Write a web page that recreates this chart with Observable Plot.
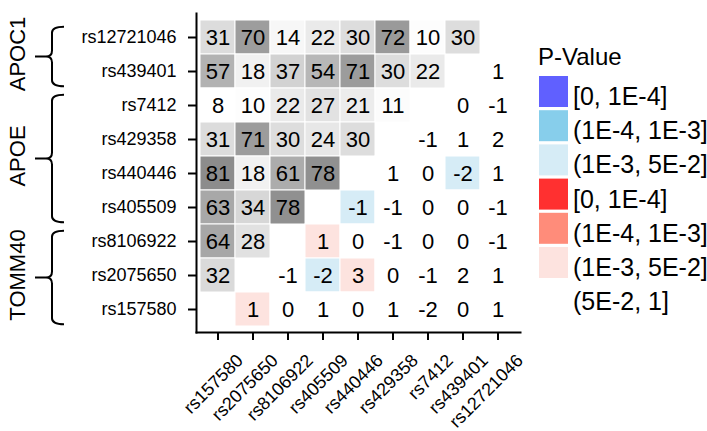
<!DOCTYPE html>
<html>
<head>
<meta charset="utf-8">
<script src="https://cdn.jsdelivr.net/npm/d3@7"></script>
<script src="https://cdn.jsdelivr.net/npm/@observablehq/plot@0.6"></script>
<style>
  html, body { margin: 0; padding: 0; background: #ffffff; }
  #chart { width: 707px; height: 431px; }
</style>
</head>
<body>
<div id="chart"></div>
<script>
// SNP order (rows top to bottom, columns left to right)
const rowSnps = ["rs12721046","rs439401","rs7412","rs429358","rs440446","rs405509","rs8106922","rs2075650","rs157580"];
const colSnps = ["rs157580","rs2075650","rs8106922","rs405509","rs440446","rs429358","rs7412","rs439401","rs12721046"];

// Cell values (row by row, null = diagonal)
const values = [
  [31, 70, 14, 22, 30, 72, 10, 30, null],
  [57, 18, 37, 54, 71, 30, 22, null, 1],
  [8, 10, 22, 27, 21, 11, null, 0, -1],
  [31, 71, 30, 24, 30, null, -1, 1, 2],
  [81, 18, 61, 78, null, 1, 0, -2, 1],
  [63, 34, 78, null, -1, -1, 0, 0, -1],
  [64, 28, null, 1, 0, -1, 0, 0, -1],
  [32, null, -1, -2, 3, 0, -1, 2, 1],
  [null, 1, 0, 1, 0, 1, -2, 0, 1]
];

// Significant cells in the lower triangle: [row SNP, column SNP, p-value bin]
const sigCells = [
  ["rs440446", "rs439401", 3],
  ["rs405509", "rs440446", 3],
  ["rs8106922", "rs405509", 3],
  ["rs2075650", "rs405509", 3],
  ["rs2075650", "rs440446", 3],
  ["rs157580", "rs2075650", 3]
];

// Legend levels and labels
const pLevels = ["neg1","neg2","neg3","pos1","pos2","pos3","ns"];
const pLabels = ["[0, 1E-4]","(1E-4, 1E-3]","(1E-3, 5E-2]","[0, 1E-4]","(1E-4, 1E-3]","(1E-3, 5E-2]","(5E-2, 1]"];
const legendTitle = "P-Value";

// Gene groups
const groups = [
  {gene: "APOC1", snps: ["rs12721046","rs439401"]},
  {gene: "APOE", snps: ["rs7412","rs429358","rs440446","rs405509"]},
  {gene: "TOMM40", snps: ["rs8106922","rs2075650","rs157580"]}
];

// Build cell table
const cells = [];
rowSnps.forEach((r, i) => {
  colSnps.forEach((c, j) => {
    const v = values[i][j];
    if (v === null) return;
    const upper = j < colSnps.length - 1 - i;
    let cls = null;
    if (!upper) {
      const s = sigCells.find(d => d[0] === r && d[1] === c);
      cls = s ? (v < 0 ? "neg" : "pos") + s[2] : "ns";
    }
    cells.push({row: r, col: c, value: v, upper, cls});
  });
});

const font = "'Liberation Sans', Arial, Helvetica, sans-serif";

const plot = Plot.plot({
  width: 707,
  height: 431,
  marginLeft: 196,
  marginRight: 187,
  marginTop: 13,
  marginBottom: 99,
  style: {fontFamily: font, background: "white", color: "black"},
  x: {type: "band", domain: colSnps, padding: 0, insetLeft: 3, insetRight: 4, label: null},
  y: {type: "band", domain: rowSnps, padding: 0, insetTop: 4, insetBottom: 4, label: null},
  opacity: {type: "linear", domain: [9, 168], range: [0, 1], clamp: true},
  color: {type: "ordinal", domain: pLevels,
          range: ["#6060ff","#87ceeb","#d6ecf6","#ff3030","#ff8c7a","#fde3df","#ffffff"]},
  marks: [
    Plot.cell(cells.filter(d => d.upper), {x: "col", y: "row", fill: "black", fillOpacity: "value", stroke: "white", strokeWidth: 1}),
    Plot.cell(cells.filter(d => !d.upper), {x: "col", y: "row", fill: "cls", stroke: "white", strokeWidth: 1}),
    Plot.text(cells, {x: "col", y: "row", text: d => String(d.value), fontSize: 22, fill: "black"}),
    Plot.frame({anchor: "left", strokeWidth: 2, stroke: "black"}),
    Plot.frame({anchor: "bottom", strokeWidth: 2, stroke: "black"}),
    Plot.axisY({tickSize: 8, tickPadding: 12, fontSize: 18, label: null, strokeWidth: 2}),
    Plot.axisX({tickSize: 8, tickFormat: () => "", label: null, strokeWidth: 2}),
    Plot.text(colSnps, {x: d => d, frameAnchor: "bottom", dx: 22, dy: 25, rotate: -45,
                        textAnchor: "end", lineAnchor: "middle", fontSize: 18, fill: "black"})
  ]
});

document.getElementById("chart").appendChild(plot);

// Annotations: gene braces and labels, positioned with Plot's y scale
const svg = d3.select(plot);
const ys = plot.scale("y");
const bw = ys.bandwidth;
const ann = svg.append("g").attr("fill", "none").attr("stroke", "black").attr("stroke-width", 2);
const spineX = 52, hookX = 64, tailX = 35, r = 6;
groups.forEach(g => {
  const top = ys.apply(g.snps[0]) + bw * 0.2;
  const bottom = ys.apply(g.snps[g.snps.length - 1]) + bw * 0.95;
  const mid = (top + bottom) / 2;
  const p = d3.path();
  p.moveTo(hookX, top);
  p.quadraticCurveTo(spineX, top, spineX, top + r);
  p.lineTo(spineX, mid - r);
  p.quadraticCurveTo(spineX, mid, spineX - r, mid);
  p.lineTo(tailX, mid);
  p.moveTo(spineX - r, mid);
  p.quadraticCurveTo(spineX, mid, spineX, mid + r);
  p.lineTo(spineX, bottom - r);
  p.quadraticCurveTo(spineX, bottom, hookX, bottom);
  ann.append("path").attr("d", p.toString());
  const cy = (ys.apply(g.snps[0]) + ys.apply(g.snps[g.snps.length - 1]) + bw) / 2;
  svg.append("text")
    .attr("transform", `translate(25,${cy}) rotate(-90)`)
    .attr("text-anchor", "middle")
    .attr("font-size", 22)
    .attr("font-family", font)
    .attr("fill", "black")
    .text(g.gene);
});

// Legend built from Plot's color scale
const cs = plot.scale("color");
const lg = svg.append("g").attr("font-family", font).attr("fill", "black").attr("text-anchor", "start");
lg.append("text").attr("x", 538).attr("y", 65).attr("font-size", 24).text(legendTitle);
cs.domain.forEach((k, i) => {
  const y0 = 76 + i * 34.2;
  lg.append("rect").attr("x", 539).attr("y", y0).attr("width", 29).attr("height", 31)
    .attr("fill", cs.apply(k));
  lg.append("text").attr("x", 573).attr("y", y0 + 29).attr("font-size", 25)
    .text(pLabels[pLevels.indexOf(k)]);
});
</script>
</body>
</html>
